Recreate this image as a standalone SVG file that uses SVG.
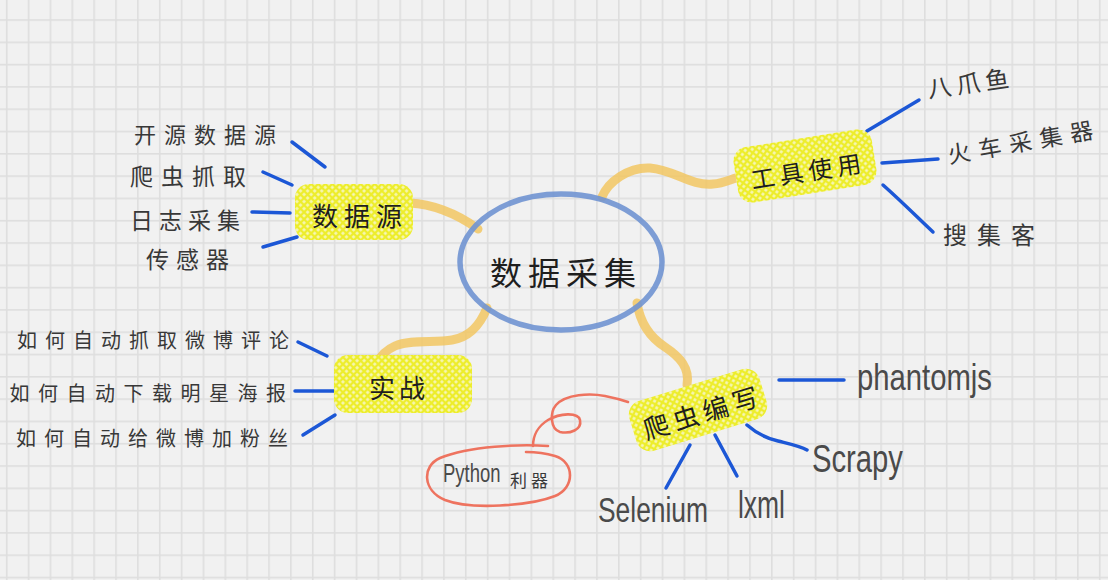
<svg xmlns="http://www.w3.org/2000/svg" width="1108" height="580" viewBox="0 0 1108 580">
<defs>
<pattern id="grid" patternUnits="userSpaceOnUse" x="5.9" y="19.2" width="21.86" height="22.3">
<rect width="21.86" height="22.3" fill="#f1f1f1"/>
<rect width="1.6" height="22.3" fill="#dedede"/>
<rect width="21.86" height="1.6" fill="#dedede"/>
</pattern>
<pattern id="hatch" patternUnits="userSpaceOnUse" width="5" height="5" patternTransform="rotate(45)">
<rect width="5" height="5" fill="#eded2c"/>
<rect x="1.2" y="1.2" width="2.6" height="2.6" fill="#f7f7c0"/>
</pattern>
<style>
.cjk{font-family:"Noto Sans CJK SC","Noto Sans",sans-serif;fill:#383838;text-anchor:middle;dominant-baseline:central}
.node{font-size:26px;fill:#1e1e1e}
.lat{font-family:"Liberation Sans",Arial,sans-serif;fill:#4a4a4a}
.branch{fill:none;stroke:#f3c45a;stroke-opacity:.8;stroke-width:9;stroke-linecap:round}
.twig{fill:none;stroke:#1c57d6;stroke-width:3.5;stroke-linecap:round}
.hl{fill:url(#hatch)}
.loop{fill:none;stroke:#ee735f;stroke-width:2.6;stroke-linecap:round}
</style>
</defs>
<rect id="background" width="1108" height="580" fill="url(#grid)"/>

<g id="connectors">
<path class="branch" d="M410,203 C430,204 455,212 478,229"/>
<path class="branch" d="M602,197 C608,182 628,167 650,168 C675,170 690,186 713,184 C725,183 733,178 740,177"/>
<path class="branch" d="M487,308 C480,325 470,337 452,340 C435,343 410,339 395,346 C386,350 380,357 377,363"/>
<path class="branch" d="M637,303 C640,322 648,336 665,347 C680,357 690,368 687,385"/>
<path class="twig" d="M292,142 L325,167"/>
<path class="twig" d="M263,172 L292,185"/>
<path class="twig" d="M252,212 L290,213"/>
<path class="twig" d="M263,247 L297,237"/>
<path class="twig" d="M298,342 L327,356"/>
<path class="twig" d="M295,391 L335,391"/>
<path class="twig" d="M303,435 L335,415"/>
<path class="twig" d="M867,131 L919,100"/>
<path class="twig" d="M882,163 L938,159"/>
<path class="twig" d="M883,185 C900,200 915,215 933,232"/>
<path class="twig" d="M779,380 L844,380"/>
<path class="twig" d="M747,425 C755,432 765,438 778,441 C790,444 800,446 807,450"/>
<path class="twig" d="M715,435 L737,476"/>
<path class="twig" d="M690,445 L666,488"/>
<path class="loop" d="M533,446 C533,436 538,426 548,420 C560,413 578,412 580,420 C582,430 570,434 560,432 C550,429 550,412 556,405 C566,394 590,393 605,396 C615,398 622,400 628,402"/>
</g>

<g id="center">
<ellipse cx="561" cy="262" rx="101" ry="68" fill="none" stroke="#7094d2" stroke-width="5.5" stroke-opacity="0.9"/>
<text class="cjk node" x="566" y="271" style="font-size:32px;letter-spacing:6px">数据采集</text>
</g>

<g id="node-shujuyuan">
<rect class="hl" x="295" y="184" width="118" height="56" rx="14"/>
<text class="cjk node" x="360" y="214" style="letter-spacing:6px">数据源</text>
</g>
<g id="node-gongju" transform="translate(805,166) rotate(-9)">
<rect class="hl" x="-70" y="-28" width="140" height="56" rx="14"/>
<text class="cjk node" x="2.5" y="4" style="font-size:24px;letter-spacing:5px">工具使用</text>
</g>
<g id="node-shizhan">
<rect class="hl" x="334" y="355" width="138" height="58" rx="14"/>
<text class="cjk node" x="399" y="386" style="letter-spacing:4px">实战</text>
</g>
<g id="node-pachong" transform="translate(698,410) rotate(-17)">
<rect class="hl" x="-68" y="-26" width="136" height="52" rx="14"/>
<text class="cjk node" x="4" y="2" style="letter-spacing:5px">爬虫编写</text>
</g>

<g id="leaf-kaiyuan"><text class="cjk" x="209" y="133" style="font-size:22px;letter-spacing:8px">开源数据源</text></g>
<g id="leaf-pachongzhuaqu"><text class="cjk" x="192" y="175" style="font-size:23px;letter-spacing:8px">爬虫抓取</text></g>
<g id="leaf-rizhi"><text class="cjk" x="188" y="219" style="font-size:23px;letter-spacing:6px">日志采集</text></g>
<g id="leaf-chuanganqi"><text class="cjk" x="191" y="258" style="font-size:23px;letter-spacing:7px">传感器</text></g>

<g id="leaf-weibo"><text class="cjk" x="157" y="339" style="font-size:20px;letter-spacing:8px">如何自动抓取微博评论</text></g>
<g id="leaf-haibao"><text class="cjk" x="152" y="392" style="font-size:20px;letter-spacing:8.5px">如何自动下载明星海报</text></g>
<g id="leaf-fensi"><text class="cjk" x="156" y="437" style="font-size:20px;letter-spacing:8px">如何自动给微博加粉丝</text></g>

<g id="leaf-bazhuayu" transform="translate(968,82) rotate(-8)"><text class="cjk" x="2.5" y="0" style="font-size:24px;letter-spacing:5px">八爪鱼</text></g>
<g id="leaf-huoche" transform="translate(1020,141) rotate(-10)"><text class="cjk" x="4" y="0" style="font-size:23px;letter-spacing:8px">火车采集器</text></g>
<g id="leaf-soujike"><text class="cjk" x="994" y="233" style="font-size:24px;letter-spacing:10px">搜集客</text></g>

<g id="leaf-phantomjs"><text class="lat" x="857" y="390" font-size="36" textLength="135" lengthAdjust="spacingAndGlyphs">phantomjs</text></g>
<g id="leaf-scrapy"><text class="lat" x="812" y="472" font-size="38" textLength="91" lengthAdjust="spacingAndGlyphs">Scrapy</text></g>
<g id="leaf-lxml"><text class="lat" x="738" y="518" font-size="38" textLength="47" lengthAdjust="spacingAndGlyphs">lxml</text></g>
<g id="leaf-selenium"><text class="lat" x="598" y="522" font-size="35" textLength="110" lengthAdjust="spacingAndGlyphs">Selenium</text></g>

<g id="note-python">
<path class="loop" d="M548,446 C520,444 470,446 440,458 C422,466 422,490 445,500 C470,510 530,506 555,496 C575,488 575,462 555,456 C545,453 535,452 526,452"/>
<text class="lat" transform="translate(443,482) scale(0.74,1)" font-size="25">Python</text>
<text class="cjk" x="531" y="479" style="font-size:17px;letter-spacing:4px">利器</text>
</g>
</svg>
